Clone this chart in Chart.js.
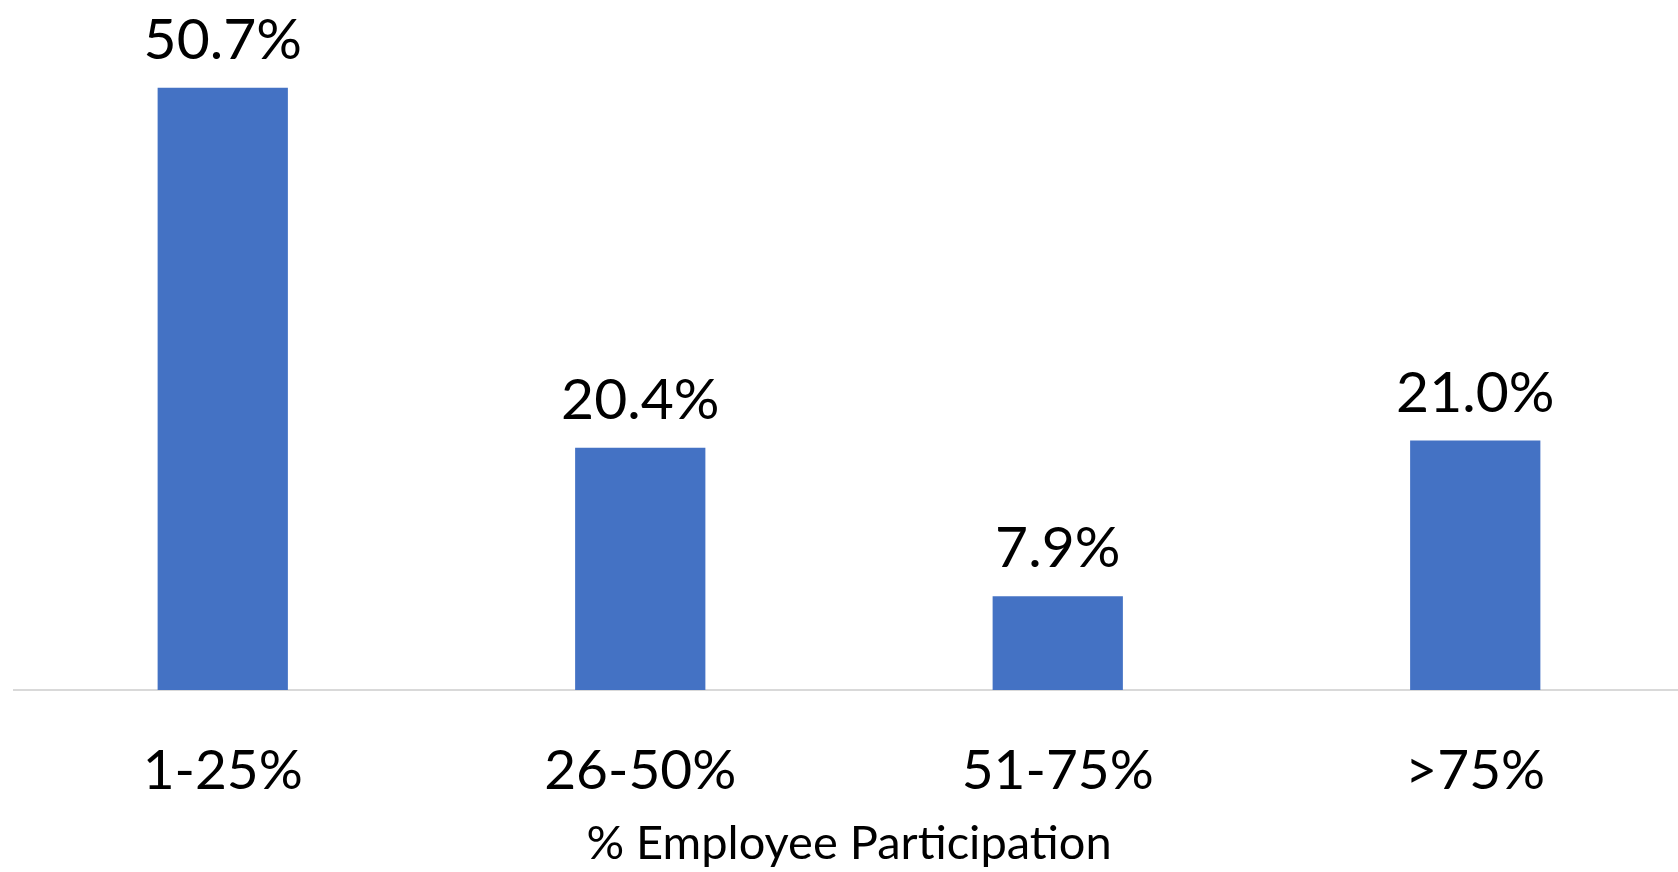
<!DOCTYPE html>
<html lang="en">
  <head>
    <meta charset="UTF-8" />
    <title>Employee Participation</title>
    <script src="https://cdn.jsdelivr.net/npm/chart.js@4.4.1/dist/chart.umd.min.js"></script>
    <style>
      html,
      body {
        margin: 0;
        padding: 0;
        background: #fff;
        overflow: hidden;
      }
      #wrap {
        width: 1690px;
        height: 872px;
      }
    </style>
  </head>
  <body>
    <div id="wrap"><canvas id="myChart"></canvas></div>
    <script>
      const categories = ["1-25%", "26-50%", "51-75%", ">75%"];
      const shares = [50.7, 20.4, 7.9, 21.0];
      const axisTitle = "% Employee Participation";

      const FONT = "Lato, 'Open Sans', sans-serif";

      // value labels above each bar, positioned from the bar elements
      const valueLabels = {
        id: "valueLabels",
        afterDatasetsDraw(chart) {
          const ctx = chart.ctx;
          const meta = chart.getDatasetMeta(0);
          ctx.save();
          ctx.font = "57px " + FONT;
          ctx.fillStyle = "#000";
          ctx.textAlign = "center";
          ctx.textBaseline = "alphabetic";
          meta.data.forEach((bar, i) => {
            ctx.fillText(shares[i].toFixed(1) + "%", bar.x, bar.y - 29);
          });
          ctx.restore();
        },
      };

      const ctx = document.getElementById("myChart").getContext("2d");
      const myChart = new Chart(ctx, {
        type: "bar",
        data: {
          labels: categories,
          datasets: [
            {
              data: shares,
              backgroundColor: "#4472C4",
              borderWidth: 0,
              barPercentage: 1,
              categoryPercentage: 0.312,
            },
          ],
        },
        options: {
          responsive: true,
          maintainAspectRatio: false,
          animation: false,
          layout: {
            padding: { top: 1, left: 14, right: 6, bottom: 0 },
          },
          plugins: {
            legend: { display: false },
            tooltip: { enabled: false },
          },
          scales: {
            x: {
              grid: { display: true, drawOnChartArea: false, drawTicks: false },
              border: { display: true, color: "#d9d9d9", width: 2 },
              ticks: {
                color: "#000",
                padding: 48,
                font: { family: FONT, size: 55 },
              },
              title: {
                display: true,
                text: axisTitle,
                color: "#000",
                padding: { top: 0, bottom: 0 },
                font: { family: FONT, size: 47 },
              },
              afterFit(scale) {
                scale.height = 182;
              },
            },
            y: {
              display: false,
              min: 0,
              max: 58,
            },
          },
        },
        plugins: [valueLabels],
      });
    </script>
  </body>
</html>
